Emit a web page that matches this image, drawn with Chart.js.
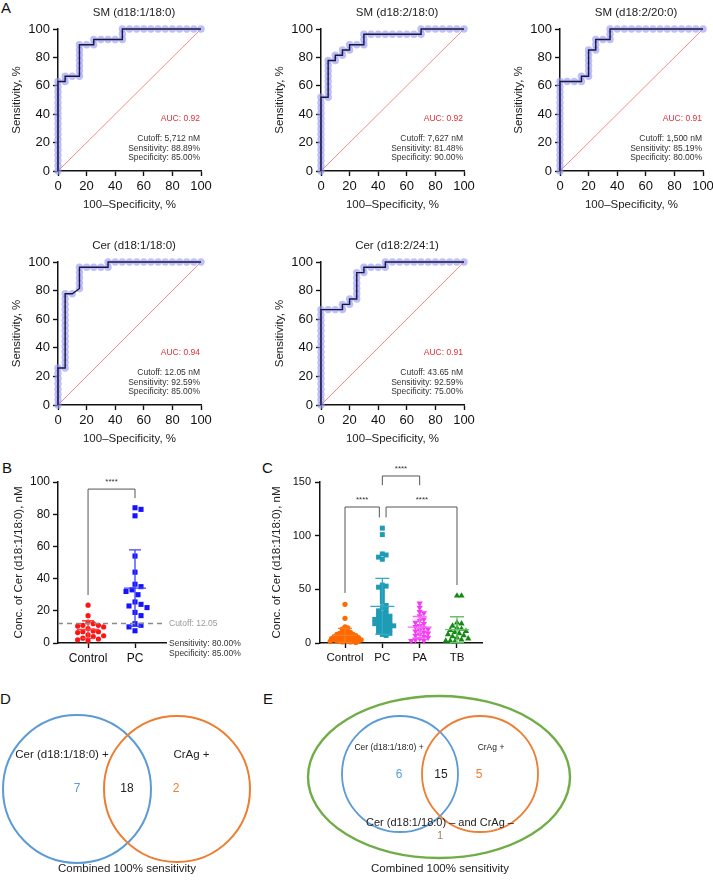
<!DOCTYPE html>
<html><head><meta charset="utf-8">
<script src="https://cdn.jsdelivr.net/npm/chart.js@4.4.1/dist/chart.umd.min.js"></script>
<style>
html,body{margin:0;padding:0;background:#fff;}
body{position:relative;width:713px;height:888px;overflow:hidden;font-family:"Liberation Sans",Arial,sans-serif;}
canvas{position:absolute;}
.pl{position:absolute;font-size:15px;line-height:15px;color:#111;}
</style></head><body>
<div class="pl" style="left:1px;top:0px">A</div>
<div class="pl" style="left:2px;top:460px">B</div>
<div class="pl" style="left:262px;top:460px">C</div>
<div class="pl" style="left:0px;top:691px">D</div>
<div class="pl" style="left:263px;top:691px">E</div>
<script>
// ================= DATA =================
const rocTitles = ['SM (d18:1/18:0)','SM (d18:2/18:0)','SM (d18:2/20:0)','Cer (d18:1/18:0)','Cer (d18:2/24:1)'];
const rocAUC = ['0.92','0.92','0.91','0.94','0.91'];
const rocCutoff = ['5,712 nM','7,627 nM','1,500 nM','12.05 nM','43.65 nM'];
const rocSens = ['88.89%','81.48%','85.19%','92.59%','92.59%'];
const rocSpec = ['85.00%','90.00%','80.00%','85.00%','75.00%'];
// [100-specificity, sensitivity]
const rocSM181 = [[0,0],[0,3.7],[0,7.4],[0,11.1],[0,14.8],[0,18.5],[0,22.2],[0,25.9],[0,29.6],[0,33.3],[0,37],[0,40.7],[0,44.4],[0,48.1],[0,51.9],[0,55.6],[0,59.3],[0,63],[5,63],[5,66.7],[10,66.7],[15,66.7],[15,70.4],[15,74.1],[15,77.8],[15,81.5],[15,85.2],[15,88.9],[20,88.9],[25,88.9],[25,92.6],[30,92.6],[35,92.6],[40,92.6],[45,92.6],[45,96.3],[45,100],[50,100],[55,100],[60,100],[65,100],[70,100],[75,100],[80,100],[85,100],[90,100],[95,100],[100,100]];
const rocSM182 = [[0,0],[0,3.7],[0,7.4],[0,11.1],[0,14.8],[0,18.5],[0,22.2],[0,25.9],[0,29.6],[0,33.3],[0,37],[0,40.7],[0,44.4],[0,48.1],[0,51.9],[5,51.9],[5,55.6],[5,59.3],[5,63],[5,66.7],[5,70.4],[5,74.1],[5,77.8],[10,77.8],[10,81.5],[15,81.5],[15,85.2],[20,85.2],[20,88.9],[25,88.9],[30,88.9],[30,92.6],[30,96.3],[35,96.3],[40,96.3],[45,96.3],[50,96.3],[55,96.3],[60,96.3],[65,96.3],[70,96.3],[70,100],[75,100],[80,100],[85,100],[90,100],[95,100],[100,100]];
const rocSM202 = [[0,0],[0,3.7],[0,7.4],[0,11.1],[0,14.8],[0,18.5],[0,22.2],[0,25.9],[0,29.6],[0,33.3],[0,37],[0,40.7],[0,44.4],[0,48.1],[0,51.9],[0,55.6],[0,59.3],[0,63],[5,63],[10,63],[15,63],[15,66.7],[20,66.7],[20,70.4],[20,74.1],[20,77.8],[20,81.5],[20,85.2],[25,85.2],[25,88.9],[25,92.6],[30,92.6],[35,92.6],[35,96.3],[35,100],[40,100],[45,100],[50,100],[55,100],[60,100],[65,100],[70,100],[75,100],[80,100],[85,100],[90,100],[95,100],[100,100]];
const rocCer181 = [[0,0],[0,3.7],[0,7.4],[0,11.1],[0,14.8],[0,18.5],[0,22.2],[0,25.9],[5,25.9],[5,29.6],[5,33.3],[5,37],[5,40.7],[5,44.4],[5,48.1],[5,51.9],[5,55.6],[5,59.3],[5,63],[5,66.7],[5,70.4],[5,74.1],[5,77.8],[10,77.8],[15,81.5],[15,85.2],[15,88.9],[15,92.6],[15,96.3],[20,96.3],[25,96.3],[30,96.3],[35,96.3],[35,100],[40,100],[45,100],[50,100],[55,100],[60,100],[65,100],[70,100],[75,100],[80,100],[85,100],[90,100],[95,100],[100,100]];
const rocCer242 = [[0,0],[0,3.7],[0,7.4],[0,11.1],[0,14.8],[0,18.5],[0,22.2],[0,25.9],[0,29.6],[0,33.3],[0,37],[0,40.7],[0,44.4],[0,48.1],[0,51.9],[0,55.6],[0,59.3],[0,63],[0,66.7],[5,66.7],[10,66.7],[15,66.7],[15,70.4],[20,70.4],[20,74.1],[25,74.1],[25,77.8],[25,81.5],[25,85.2],[25,88.9],[25,92.6],[30,92.6],[30,96.3],[35,96.3],[40,96.3],[45,96.3],[45,100],[50,100],[55,100],[60,100],[65,100],[70,100],[75,100],[80,100],[85,100],[90,100],[95,100],[100,100]];
const rocCurves = [rocSM181, rocSM182, rocSM202, rocCer181, rocCer242];

// Panel B
const bCats = ['Control','PC'];
const bControl = [23.5,17,13,12,11,11,10.5,10,9,7.5,7,7,6.5,5,4.5,4,3,2.5,2,1.5];
const bPC = [84,83,79,54,44,36.5,35,33,32,30,25.5,24,23,22,19,17,12,11,10,7.6];
const bCutoff = 12.05;
const bSensText = 'Sensitivity: 80.00%';
const bSpecText = 'Specificity: 85.00%';

// Panel C
const cCats = ['Control','PC','PA','TB'];
const cControl = [36,23,15,14,13,12,11,10,10,9,9,8,8,8,7,7,7,6,6,6,5,5,5,5,4,4,4,4,3,3,3,3,2,2,2,2,1.5,1,1,0.5];
const cPC = [107,101,83,82,80,78,54,53,52,50,46,42,38,35,33,31,30,28,27,26,25,24,23,22,22,21,20,19,18,18,17,16,16,15,14,13,12,11,10,9,8,7];
const cPA = [37,33,29,28,25,22,21,19,18,16,15,14,13,12,11,10,9,8,7,6,5,4,3,2,2];
const cTB = [44,44,19,18,16,14,13,12,11,10,9,8,7,6,5,4,3,2,2,1];

// Panels D / E (Venn counts)
const vennDLabels = ['Cer (d18:1/18:0) +','CrAg +'];
const vennDCounts = [7,18,2];
const vennELabels = ['Cer (d18:1/18:0) +','CrAg +','Cer (d18:1/18:0) \u2013 and CrAg \u2013'];
const vennECounts = [6,15,5,1];
const vennCaption = 'Combined 100% sensitivity';

// ================= HELPERS =================
const FF = '"Liberation Sans", Arial, Helvetica, sans-serif';
Chart.defaults.font.family = FF;
Chart.defaults.color = '#222';
Chart.defaults.animation = false;

function addCanvas(l,t,w,h){
  const c=document.createElement('canvas');c.width=w;c.height=h;
  Object.assign(c.style,{left:l+'px',top:t+'px',width:w+'px',height:h+'px'});
  document.body.appendChild(c);return c;
}
function axis(o){
  const a = {type:'linear',min:o.min,max:o.max,
    ticks:{stepSize:o.step,font:{size:o.tickSize},color:'#111',padding:o.pad||3,maxRotation:0,autoSkip:false},
    grid:{display:true,drawOnChartArea:false,drawTicks:true,tickLength:5,tickWidth:1.4,tickColor:'#111',color:'#111'},
    border:{display:true,color:'#111',width:1.5},
    title:{display:!!o.title,text:o.title||'',font:{size:11.5},color:'#222',padding:0},
    afterFit:o.fit};
  if(o.cb) a.ticks.callback=o.cb;
  if(o.abt) a.afterBuildTicks=o.abt;
  return a;
}
function baseOpts(padTop,padRight,xs,ys){
  return {responsive:false,animation:false,events:[],
    layout:{padding:{top:padTop,right:padRight,bottom:0,left:0}},
    plugins:{legend:{display:false},tooltip:{enabled:false},title:{display:false}},
    scales:{x:xs,y:ys}};
}

// ================= ROC CHARTS =================
function rocPlugin(i){
  return {id:'rocTxt',afterDraw(ch){
    const ctx=ch.ctx,a=ch.chartArea;ctx.save();ctx.textBaseline='middle';
    ctx.fillStyle='#222';ctx.font='11.5px '+FF;ctx.textAlign='center';
    ctx.fillText(rocTitles[i],(a.left+a.right)/2+4.5,a.top-16);
    ctx.textAlign='right';ctx.font='8.5px '+FF;
    ctx.fillStyle='#e0303a';ctx.fillText('AUC: '+rocAUC[i],a.right-1,a.bottom-52.5);
    ctx.fillStyle='#333';
    ctx.fillText('Cutoff: '+rocCutoff[i],a.right-1,a.bottom-32.5);
    ctx.fillText('Sensitivity: '+rocSens[i],a.right-1,a.bottom-22.5);
    ctx.fillText('Specificity: '+rocSpec[i],a.right-1,a.bottom-13);
    ctx.restore();
  }};
}
function roc(i,caLeft,caTop,PH){
  const YW=48,XH=41,TT=24,PR=14,PW=143;
  const cv=addCanvas(caLeft-YW,caTop-TT,YW+PW+PR,TT+PH+XH);
  const pts=rocCurves[i].map(p=>({x:p[0],y:p[1]}));
  new Chart(cv,{type:'scatter',
    data:{datasets:[
      {data:[{x:0,y:0},{x:100,y:100}],showLine:true,borderColor:'#f28c8c',borderWidth:1,pointRadius:0,order:3},
      {data:pts,showLine:false,pointRadius:3.7,pointBackgroundColor:'rgba(150,150,245,0.62)',pointBorderWidth:0,order:2,clip:false},
      {data:pts,showLine:true,borderColor:'#18183c',borderWidth:1.4,pointRadius:0,order:1,clip:false}
    ]},
    options:baseOpts(TT,PR,
      axis({min:0,max:100,step:20,tickSize:13,pad:3,title:'100\u2013Specificity, %',fit:s=>{s.height=XH;}}),
      axis({min:0,max:100,step:20,tickSize:13,pad:3,title:'Sensitivity, %',fit:s=>{s.width=YW;}})),
    plugins:[rocPlugin(i)]});
}
roc(0,58,29,142);
roc(1,321,29,142);
roc(2,560,29,142);
roc(3,58,262,143);
roc(4,321,262,143);

// ================= DOT PLOTS =================
function swarm(vals,cx,pxX,pxY,d){
  const idx=vals.map((v,i)=>i).sort((a,b)=>vals[b]-vals[a]);
  const placed=[],out=[];
  idx.forEach(i=>{
    const py=vals[i]*pxY;let off=0;
    for(let k=0;k<120;k++){
      const o=(k%2?1:-1)*Math.ceil(k/2)*d/2;
      if(placed.every(p=>(p.x-o)**2+(p.y-py)**2>=d*d)){off=o;break;}
    }
    placed.push({x:off,y:py});out[i]={x:cx+off/pxX,y:vals[i]};
  });
  return out;
}
function meanSd(v){const n=v.length,m=v.reduce((a,b)=>a+b,0)/n;const sd=Math.sqrt(v.reduce((a,b)=>a+(b-m)*(b-m),0)/(n-1));return [m,sd];}
function drawStats(ctx,xs,ys,x,vals,color,mh,ch){
  const [m,sd]=meanSd(vals);const X=xs.getPixelForValue(x);
  const Ym=ys.getPixelForValue(m),Yt=ys.getPixelForValue(m+sd),Yb=ys.getPixelForValue(Math.max(m-sd,0));
  ctx.save();ctx.strokeStyle=color;ctx.lineWidth=1.3;ctx.beginPath();
  ctx.moveTo(X-mh,Ym);ctx.lineTo(X+mh,Ym);
  ctx.moveTo(X,Yt);ctx.lineTo(X,Yb);
  ctx.moveTo(X-ch,Yt);ctx.lineTo(X+ch,Yt);
  ctx.moveTo(X-ch,Yb);ctx.lineTo(X+ch,Yb);
  ctx.stroke();ctx.restore();
}
function bracket(ctx,xs,ys,x1,x2,y,l1,l2,tx){
  const X1=xs.getPixelForValue(x1),X2=xs.getPixelForValue(x2),Y=ys.getPixelForValue(y);
  ctx.save();ctx.strokeStyle='#555';ctx.lineWidth=1;ctx.beginPath();
  ctx.moveTo(X1,ys.getPixelForValue(l1));ctx.lineTo(X1,Y);ctx.lineTo(X2,Y);ctx.lineTo(X2,ys.getPixelForValue(l2));ctx.stroke();
  ctx.fillStyle='#333';ctx.font='8px '+FF;ctx.textAlign='center';ctx.textBaseline='middle';
  ctx.fillText('****',xs.getPixelForValue(tx),Y-7);ctx.restore();
}
const catTicks=(cats)=>(s=>{s.ticks=cats.map((c,i)=>({value:i+1}));});

// ---- Panel B ----
(function(){
  const YW=46,XH=30,TT=24,PR=80,PW=108,PH=161,xmin=0.36,xmax=2.66;
  const cv=addCanvas(58-YW,482-TT,YW+PW+PR,TT+PH+XH);
  const pxX=PW/(xmax-xmin),pxY=PH/100;
  const plug={id:'bExtra',afterDatasetsDraw(ch){
    const ctx=ch.ctx,xs=ch.scales.x,ys=ch.scales.y,a=ch.chartArea;
    drawStats(ctx,xs,ys,1,bControl,'#ff4040',11,6);
    drawStats(ctx,xs,ys,2,bPC,'#4040ff',11,6);
    const Yc=ys.getPixelForValue(bCutoff);
    ctx.save();ctx.strokeStyle='#8a8a8a';ctx.lineWidth=1.5;ctx.setLineDash([5,4]);
    ctx.beginPath();ctx.moveTo(a.left,Yc);ctx.lineTo(a.right,Yc);ctx.stroke();ctx.setLineDash([]);
    ctx.font='8.5px '+FF;ctx.textBaseline='middle';ctx.textAlign='left';
    ctx.fillStyle='#9a9a9a';ctx.fillText('Cutoff: '+bCutoff,a.right+3,Yc);
    ctx.fillStyle='#333';ctx.fillText(bSensText,a.right+3,a.bottom+1);ctx.fillText(bSpecText,a.right+3,a.bottom+10.5);
    ctx.restore();
    bracket(ctx,xs,ys,1,2,95.6,29.8,90,1.5);
  }};
  new Chart(cv,{type:'scatter',
    data:{datasets:[
      {data:swarm(bControl,1,pxX,pxY,5.2),pointStyle:'circle',pointRadius:2.6,pointBackgroundColor:'#ff1414',pointBorderWidth:0,clip:false},
      {data:swarm(bPC,2,pxX,pxY,6),pointStyle:'rect',pointRadius:3.6,pointBackgroundColor:'#1414ff',pointBorderWidth:0,clip:false}
    ]},
    options:baseOpts(TT,PR,
      axis({min:xmin,max:xmax,tickSize:12,pad:3,abt:catTicks(bCats),cb:v=>bCats[v-1],fit:s=>{s.height=XH;}}),
      axis({min:0,max:100,step:20,tickSize:12,pad:3,title:'Conc. of Cer (d18:1/18:0), nM',fit:s=>{s.width=YW;}})),
    plugins:[plug]});
})();

// ---- Panel C ----
(function(){
  const YW=50,XH=30,TT=24,PR=12,PW=162,PH=161,xmin=0.33,xmax=4.67;
  const cv=addCanvas(320-YW,482-TT,YW+PW+PR,TT+PH+XH);
  const pxX=PW/(xmax-xmin),pxY=PH/150;
  const plug={id:'cExtra',afterDatasetsDraw(ch){
    const ctx=ch.ctx,xs=ch.scales.x,ys=ch.scales.y;
    drawStats(ctx,xs,ys,1,cControl,'#ff7a20',12,7);
    drawStats(ctx,xs,ys,2,cPC,'#35a9c4',12,7);
    drawStats(ctx,xs,ys,3,cPA,'#f56ef5',12,7);
    drawStats(ctx,xs,ys,4,cTB,'#6cbf6c',12,7);
    bracket(ctx,xs,ys,2,3,155.6,147,147,2.5);
    bracket(ctx,xs,ys,1,1.92,126.7,46.6,117,1.46);
    bracket(ctx,xs,ys,2.1,4,126.7,117,54,3.06);
  }};
  new Chart(cv,{type:'scatter',
    data:{datasets:[
      {data:swarm(cControl,1,pxX,pxY,2.7),pointStyle:'circle',pointRadius:2.6,pointBackgroundColor:'#ff6a00',pointBorderWidth:0,clip:false},
      {data:swarm(cPC,2,pxX,pxY,3.8),pointStyle:'rect',pointRadius:3.5,pointBackgroundColor:'#1e9bb5',pointBorderWidth:0,clip:false},
      {data:swarm(cPA,3,pxX,pxY,4.2),pointStyle:'triangle',pointRotation:180,pointRadius:3.6,pointBackgroundColor:'#f53cf5',pointBorderWidth:0,clip:false},
      {data:swarm(cTB,4,pxX,pxY,4.5),pointStyle:'triangle',pointRadius:3.6,pointBackgroundColor:'#138a13',pointBorderWidth:0,clip:false}
    ]},
    options:baseOpts(TT,PR,
      axis({min:xmin,max:xmax,tickSize:11.5,pad:3,abt:catTicks(cCats),cb:v=>cCats[v-1],fit:s=>{s.height=XH;}}),
      axis({min:0,max:150,step:50,tickSize:11,pad:4,title:'Conc. of Cer (d18:1/18:0), nM',fit:s=>{s.width=YW;}})),
    plugins:[plug]});
})();

// ================= VENN =================
function venn(l,t,w,h,draw){
  const cv=addCanvas(l,t,w,h);
  const plug={id:'venn',afterDraw(ch){
    const xs=ch.scales.x,ys=ch.scales.y,ctx=ch.ctx;
    const P=(x,y)=>[xs.getPixelForValue(x),ys.getPixelForValue(y)];
    const R=r=>xs.getPixelForValue(r)-xs.getPixelForValue(0);
    ctx.save();draw(ctx,P,R);ctx.restore();
  }};
  new Chart(cv,{type:'scatter',data:{datasets:[{data:[]}]},
    options:{responsive:false,animation:false,events:[],layout:{padding:0},
      plugins:{legend:{display:false},tooltip:{enabled:false}},
      scales:{x:{type:'linear',display:false,min:0,max:w},y:{type:'linear',display:false,min:0,max:h,reverse:true}}},
    plugins:[plug]});
}
function ell(ctx,P,R,cx,cy,rx,ry,color,lw){
  const [X,Y]=P(cx,cy);ctx.beginPath();ctx.ellipse(X,Y,R(rx),R(ry),0,0,Math.PI*2);
  ctx.strokeStyle=color;ctx.lineWidth=lw;ctx.stroke();
}
function txt(ctx,P,s,x,y,size,color){
  const [X,Y]=P(x,y);ctx.font=size+'px '+FF;ctx.fillStyle=color;ctx.textAlign='center';ctx.textBaseline='middle';ctx.fillText(s,X,Y);
}
const BLUE='#5b9bd5',ORANGE='#ed7d31',GREEN='#70ad47';
venn(0,690,262,198,(ctx,P,R)=>{
  ell(ctx,P,R,77,99,74,74,BLUE,2);
  ell(ctx,P,R,177,99,73,73,ORANGE,2);
  txt(ctx,P,vennDLabels[0],62,65,11.5,'#222');
  txt(ctx,P,vennDLabels[1],191.5,65,11.5,'#222');
  txt(ctx,P,String(vennDCounts[0]),77,99,12,BLUE);
  txt(ctx,P,String(vennDCounts[1]),127,99,12,'#222');
  txt(ctx,P,String(vennDCounts[2]),176,99,12,ORANGE);
  txt(ctx,P,vennCaption,127,179,11.5,'#222');
});
venn(262,690,451,198,(ctx,P,R)=>{
  ell(ctx,P,R,177,87,131,81,GREEN,2.4);
  ell(ctx,P,R,138,84,58,58,BLUE,1.8);
  ell(ctx,P,R,218,84,58,58,ORANGE,1.8);
  txt(ctx,P,vennELabels[0],127,58,8.5,'#222');
  txt(ctx,P,vennELabels[1],229,58,8.5,'#222');
  txt(ctx,P,String(vennECounts[0]),137,85,12,BLUE);
  txt(ctx,P,String(vennECounts[1]),179,85,12,'#222');
  txt(ctx,P,String(vennECounts[2]),217,85,12,ORANGE);
  txt(ctx,P,vennELabels[2],178,133,11,'#222');
  txt(ctx,P,String(vennECounts[3]),178,146,11,'#9a8a60');
  txt(ctx,P,vennCaption,178,179,11.5,'#222');
});
</script></body></html>
